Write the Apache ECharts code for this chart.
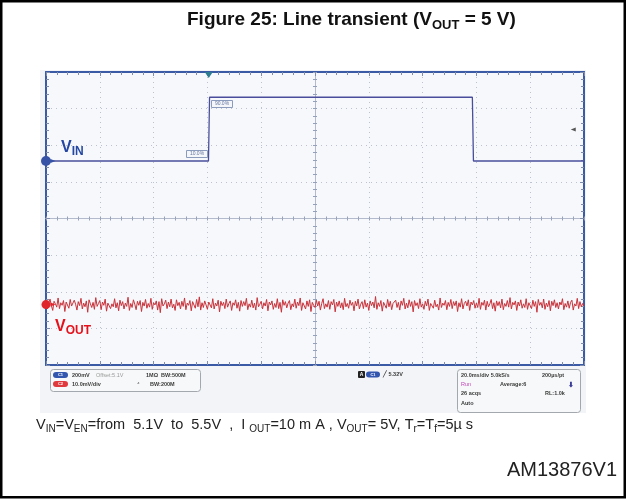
<!DOCTYPE html>
<html>
<head>
<meta charset="utf-8">
<script src="https://cdn.jsdelivr.net/npm/echarts@6/dist/echarts.min.js"></script>
<style>
html, body { margin: 0; padding: 0; background: #fff; }
#chart { width: 627px; height: 499px; }
</style>
</head>
<body>
<div id="chart"></div>
<script>
// time base 20 ms/div, 10 divisions across the screen
var timeMin = 0, timeMax = 200, timeStep = 20;
// vertical scale in screen divisions from the centre line (8 divisions)
var divMin = -4, divMax = 4, divStep = 1;

// C1 = VIN, 200 mV/div : 5.1 V -> 5.5 V -> 5.1 V
var vinTime = [0, 60.4, 60.8, 158.5, 158.9, 200];
var vinLevel = [1.57, 1.57, 3.31, 3.31, 1.57, 1.57];

// C2 = VOUT, 10 mV/div : mean level (div) and noise (mV), one sample every 0.5 ms
var voutLevel = -2.35;
var voutSampleMs = 0.5;
var voutNoise = [
  0.6, -1.2, 0.4, 1.5, -0.3, -1.6, 0.9, 0.2, -0.7, 1.8, -1.1, 0.5, -0.2, 1.1, -1.9, 0.7, 0.3, -1.0, 1.4, -0.4,
  -0.9, 1.2, 0.1, -1.5, 0.8, -0.3, 1.7, -1.2, 0.4, -0.6, 1.0, -2.1, 1.3, 0.2, -0.8, 0.6, -1.3, 1.9, -0.5, 0.3,
  1.1, -1.4, 0.7, -0.2, 1.5, -1.8, 0.4, 0.9, -1.1, 0.2, -0.6, 1.6, -0.9, 0.5, -1.7, 1.2, -0.3, 0.8, -1.2, 0.4,
  -0.5, 2.0, -1.6, 0.3, -0.8, 1.3, 0.1, -1.4, 0.9, -0.2, 1.1, -1.9, 0.6, -0.4, 1.4, -1.0, 0.3, -0.7, 1.7, -1.3,
  0.5, -0.1, 1.0, -1.5, 0.8, -2.2, 1.6, -0.4, 0.2, 1.2, -1.1, 0.7, -0.6, 1.5, -0.9, 0.1, -1.6, 1.3, -0.3, 0.6,
  -1.2, 0.9, -0.5, 1.8, -1.4, 0.4, -0.2, 1.1, -1.7, 0.8, 0.3, -1.0, 1.4, -0.6, 2.1, -1.5, 0.5, -0.8, 1.0, -0.1,
  -1.3, 0.7, 0.2, -0.9, 1.6, -1.2, 0.4, -0.4, 1.2, -2.0, 0.9, -0.3, 0.6, -1.1, 1.5, -0.7, 0.3, 1.0, -1.6, 0.5,
  -0.2, 1.3, -1.0, 0.6, -1.8, 1.1, -0.5, 0.8, -0.3, 1.7, -1.4, 0.2, -0.7, 1.2, -0.9, 0.4, -1.5, 1.9, -0.6, 0.1,
  0.9, -1.2, 0.5, -0.4, 1.4, -1.7, 0.7, -0.1, 1.0, -1.3, 0.3, -0.8, 1.6, -1.1, 0.6, -2.1, 1.3, -0.2, 0.8, -0.9,
  0.4, 1.1, -1.4, 0.2, -0.6, 1.5, -1.0, 0.7, -0.3, 1.8, -1.6, 0.5, 0.1, -1.2, 1.0, -0.5, 1.3, -1.9, 0.6, -0.2,
  -0.8, 1.2, -0.4, 0.9, -1.5, 0.3, 1.6, -1.1, 0.2, -0.7, 1.1, -1.3, 0.8, -0.1, 1.4, -2.0, 0.7, -0.5, 1.0, -0.9,
  0.5, -1.4, 1.7, -0.6, 0.3, -1.0, 1.2, -0.2, 0.6, -1.7, 0.9, -0.4, 1.5, -1.2, 0.1, 0.8, -1.1, 1.3, -0.7, 0.4,
  -1.6, 1.0, -0.3, 0.7, -0.9, 2.2, -1.3, 0.5, -0.5, 1.1, -1.8, 0.6, 0.2, -1.0, 1.4, -0.6, 0.9, -1.4, 0.3, -0.1,
  1.2, -0.8, 0.6, -1.5, 1.0, -0.2, 1.7, -1.2, 0.4, -0.9, 1.3, -0.5, 0.8, -2.0, 1.1, -0.3, 0.5, -1.1, 1.6, -0.7,
  0.2, -1.3, 0.9, -0.4, 1.5, -1.6, 0.3, 0.7, -1.0, 1.2, -0.6, 0.1, -1.5, 1.8, -0.8, 0.4, -0.2, 1.1, -1.4, 0.6,
  -0.5, 1.4, -1.1, 0.8, -0.3, 1.0, -1.9, 0.5, -0.7, 1.6, -1.2, 0.3, 0.9, -0.4, 1.3, -1.6, 0.7, -0.1, 1.1, -1.0,
  0.4, -0.8, 1.7, -1.3, 0.6, -0.2, 1.2, -1.5, 0.9, -0.6, 0.2, 1.4, -1.1, 0.5, -1.8, 1.0, -0.3, 0.8, -0.9, 1.5,
  -1.4, 0.3, -0.5, 1.1, -0.7, 1.9, -1.2, 0.6, -0.1, 1.0, -1.6, 0.7, -0.4, 1.3, -1.0, 0.2, -0.8, 1.6, -1.3, 0.5,
  0.1, -1.1, 1.2, -0.5, 0.8, -2.1, 1.4, -0.2, 0.6, -0.9, 1.5, -1.3, 0.4, -0.6, 1.1, -1.7, 0.9, -0.3, 1.3, -0.8,
  0.5, -1.2, 0.7, -0.1, 1.6, -1.4, 0.3, -0.7, 1.0, -1.0, 0.6, 1.2, -1.5, 0.2, -0.4, 1.7, -1.1, 0.8, -0.6, 0.3,
  -0.4
];

// trigger position / level markers
var triggerTime = 60.5;
var triggerLevelTime = 196, triggerLevelDiv = 2.43;

var vinData = vinTime.map(function (t, i) { return [t, vinLevel[i]]; });
var voutData = voutNoise.map(function (n, i) { return [i * voutSampleMs, voutLevel + n / 10]; });

var frameColor = '#3b5aa6';
var tickColor = '#7f8cab';
var centreColor = '#b2bacb';
var font = 'Arial, "Liberation Sans", sans-serif';
var infoFont = 'bold 5.5px ' + font;

function frameX(pos, split) {
  return {
    type: 'value', min: timeMin, max: timeMax, interval: timeStep, position: pos,
    axisLine: { onZero: false, lineStyle: { color: frameColor, width: 2 } },
    axisTick: { inside: true, length: 4, lineStyle: { color: tickColor } },
    minorTick: { show: true, splitNumber: 5, length: 3, lineStyle: { color: tickColor } },
    axisLabel: { show: false },
    splitLine: { show: split, lineStyle: { color: '#bcc3cf', type: [1, 4] } }
  };
}
function frameY(pos, split) {
  return {
    type: 'value', min: divMin, max: divMax, interval: divStep, position: pos,
    axisLine: { onZero: false, lineStyle: { color: frameColor, width: 2 } },
    axisTick: { inside: true, length: 4, lineStyle: { color: tickColor } },
    minorTick: { show: true, splitNumber: 5, length: 3, lineStyle: { color: tickColor } },
    axisLabel: { show: false },
    splitLine: { show: split, lineStyle: { color: '#bcc3cf', type: [1, 4] } }
  };
}
function centreX(inside) {
  return {
    type: 'value', min: timeMin, max: timeMax, interval: timeStep, position: 'bottom',
    axisLine: { onZero: true, onZeroAxisIndex: 0, lineStyle: { color: centreColor, width: 1 } },
    axisTick: { inside: inside, length: 2, lineStyle: { color: '#95a0ba' } },
    minorTick: { show: true, splitNumber: 5, length: 2, lineStyle: { color: '#95a0ba' } },
    axisLabel: { show: false }, splitLine: { show: false }
  };
}
function centreY(inside) {
  return {
    type: 'value', min: divMin, max: divMax, interval: divStep, position: 'left', offset: -269,
    axisLine: { onZero: false, lineStyle: { color: centreColor, width: 1 } },
    axisTick: { inside: inside, length: 2, lineStyle: { color: '#95a0ba' } },
    minorTick: { show: true, splitNumber: 5, length: 2, lineStyle: { color: '#95a0ba' } },
    axisLabel: { show: false }, splitLine: { show: false }
  };
}

function txt(x, y, text, color, f, align) {
  return { type: 'text', x: x, y: y, z: 20,
    style: { text: text, fill: color || '#3a3a3a', font: f || infoFont, align: align || 'left', verticalAlign: 'middle' } };
}
function box(x, y, w, h, r, fill, stroke) {
  return { type: 'rect', z: 15, shape: { x: x, y: y, width: w, height: h, r: r },
    style: { fill: fill, stroke: stroke || null, lineWidth: 1 } };
}
function pill(x, y, w, color, text) {
  return [
    box(x, y - 3, w, 6, 3, color),
    txt(x + w / 2, y, text, '#fff', 'bold 4px ' + font, 'center')
  ];
}
function subText(x, y, parts, color, big, small, weight) {
  var s = '';
  parts.forEach(function (p) { s += '{' + p[0] + '|' + p[1] + '}'; });
  return { type: 'text', x: x, y: y, z: 20,
    style: { text: s, align: 'left', verticalAlign: 'top',
      rich: {
        m: { fill: color, fontSize: big, fontWeight: weight, fontFamily: font, lineHeight: big + 5 },
        s: { fill: color, fontSize: small, fontWeight: weight, fontFamily: font, lineHeight: small, verticalAlign: 'bottom' }
      } } };
}

var graphics = [
  // page frame and scope screen
  { type: 'rect', z: -10, shape: { x: 1.25, y: 1.25, width: 623.5, height: 496 }, style: { fill: '#fff', stroke: '#000', lineWidth: 2.5 } },
  { type: 'rect', z: -9, shape: { x: 40, y: 70, width: 546, height: 343 }, style: { fill: '#f2f4f7' } },
  { type: 'rect', z: -8, shape: { x: 46, y: 72, width: 538, height: 293 }, style: { fill: '#f6f8fb' } },
  // title
  subText(187, 8, [['m', 'Figure 25: Line transient (V'], ['s', 'OUT'], ['m', ' = 5 V)']], '#111', 19, 13, 'bold'),
  // trace labels
  subText(61, 137, [['m', 'V'], ['s', 'IN']], '#2447a3', 16, 12, 'bold'),
  subText(55, 316, [['m', 'V'], ['s', 'OUT']], '#e5121b', 16, 12, 'bold'),
  // 10% / 90% cursors
  box(211.5, 100.5, 21, 7, 0, '#f4f6fa', '#8a9bbd'),
  txt(222, 104, '90.0%', '#6677a0', '5px ' + font, 'center'),
  box(186.5, 150.5, 21, 7, 0, '#f4f6fa', '#8a9bbd'),
  txt(197, 154, '10.0%', '#6677a0', '5px ' + font, 'center'),
  // channel info box
  box(50.5, 369.5, 150, 22, 3, '#f7f8f9', '#a3a8ae')
].concat(pill(53, 375, 15, '#3356ae', 'C1'), pill(53, 384, 15, '#e03a3e', 'C2'), [
  txt(72, 375, '200mV'),
  txt(96, 375, 'Offset:5.1V', '#9a9a9a', '5.5px ' + font),
  txt(146, 375, '1MΩ'),
  txt(161, 375, 'BW:500M'),
  txt(72, 384, '10.0mV/div'),
  txt(137, 384, '⁴', '#777'),
  txt(150, 384, 'BW:200M'),
  // trigger box
  box(358, 371, 7, 7, 1, '#222'),
  txt(361.5, 374.5, 'A', '#fff', 'bold 5px ' + font, 'center')
], pill(366, 374.5, 14, '#3356ae', 'C1'), [
  txt(383, 374.5, '╱ 5.32V'),
  // timebase box
  box(457.5, 369.5, 123, 43, 3, '#f7f8f9', '#a3a8ae'),
  txt(461, 375, '20.0ms/div 5.0kS/s'),
  txt(542, 375, '200µs/pt'),
  txt(461, 384, 'Run', '#c046b8', '5.5px ' + font),
  txt(500, 384, 'Average:6'),
  txt(571, 385, '⬇', '#3b3d99', 'bold 7px ' + font, 'center'),
  txt(461, 393, '26 acqs'),
  txt(545, 393, 'RL:1.0k'),
  txt(461, 403, 'Auto'),
  // caption and figure id
  subText(36, 415, [['m', 'V'], ['s', 'IN'], ['m', '=V'], ['s', 'EN'], ['m', '=from  5.1V  to  5.5V  ,  I '], ['s', 'OUT'],
    ['m', '=10 m A , V'], ['s', 'OUT'], ['m', '= 5V, T'], ['s', 'r'], ['m', '=T'], ['s', 'f'], ['m', '=5µ s']], '#222', 14.5, 10, 'normal'),
  txt(617, 470, 'AM13876V1', '#222', '20px ' + font, 'right')
]);

var chart = echarts.init(document.getElementById('chart'), null, { renderer: 'canvas' });
chart.setOption({
  animation: false,
  backgroundColor: '#fff',
  grid: { left: 46, top: 72, width: 538, height: 293, outerBoundsMode: 'none' },
  xAxis: [frameX('bottom', true), frameX('top', false), centreX(true), centreX(false)],
  yAxis: [frameY('left', true), frameY('right', false), centreY(true), centreY(false)],
  series: [
    {
      name: 'VIN', type: 'line', data: vinData, showSymbol: false, z: 4,
      lineStyle: { color: '#4a4d9c', width: 1.3 },
      markPoint: {
        label: { show: false },
        data: [
          { coord: [timeMin, vinLevel[0]], symbol: 'circle', symbolSize: 10, itemStyle: { color: '#3552a6' } },
          { coord: [timeMin, vinLevel[0]], symbol: 'triangle', symbolRotate: -90, symbolSize: [4, 5], symbolOffset: [7, 0], itemStyle: { color: '#3552a6' } },
          { coord: [triggerTime, divMax], symbol: 'triangle', symbolRotate: 180, symbolSize: [8, 6], symbolOffset: [0, 3], itemStyle: { color: '#2d7c90' } },
          { coord: [triggerLevelTime, triggerLevelDiv], symbol: 'triangle', symbolRotate: 90, symbolSize: [4, 5], itemStyle: { color: '#555' } }
        ]
      }
    },
    {
      name: 'VOUT', type: 'line', data: voutData, showSymbol: false, z: 3,
      lineStyle: { color: '#c9323a', width: 1 },
      markPoint: {
        label: { show: false },
        data: [
          { coord: [timeMin, voutLevel], symbol: 'circle', symbolSize: 9, itemStyle: { color: '#e0262d' } },
          { coord: [timeMin, voutLevel], symbol: 'triangle', symbolRotate: -90, symbolSize: [4, 5], symbolOffset: [7, 0], itemStyle: { color: '#e0262d' } }
        ]
      }
    }
  ],
  graphic: graphics
});
</script>
</body>
</html>
